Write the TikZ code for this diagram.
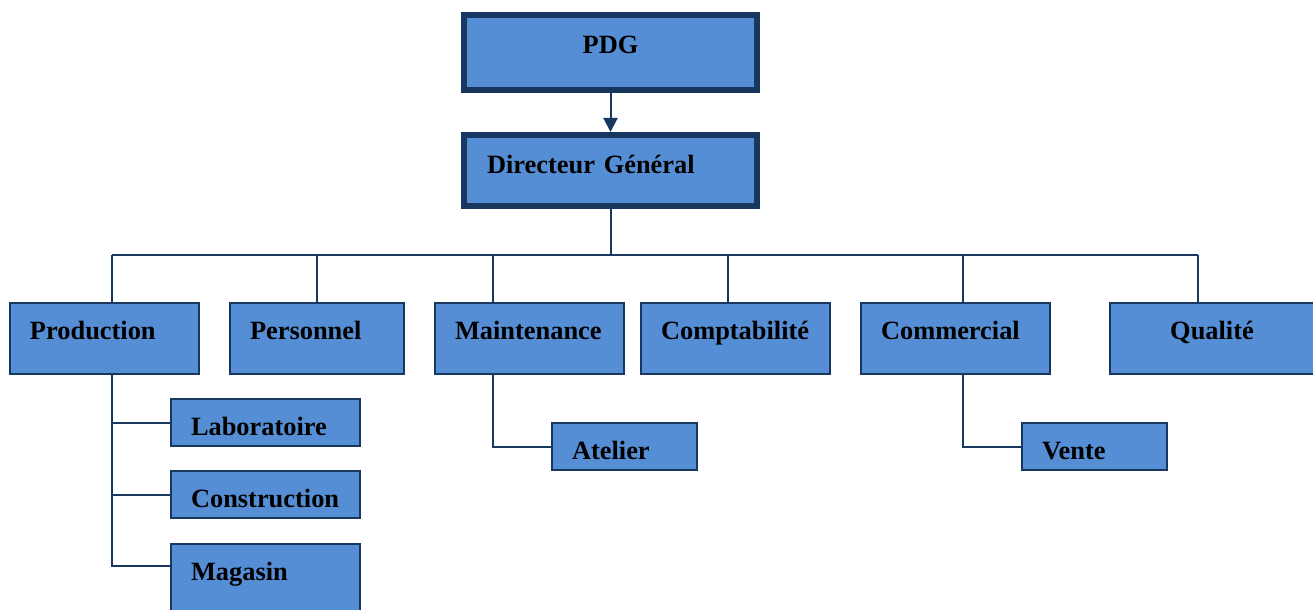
\documentclass[tikz,border=0pt]{standalone}
\usepackage{fontspec}
\setmainfont{Liberation Serif}
\definecolor{orgfill}{HTML}{558ED5}
\definecolor{orgline}{HTML}{17375E}
\usetikzlibrary{arrows.meta, positioning}

\begin{document}
\begin{tikzpicture}[
      x=0.5pt, y=-0.5pt,
      unitbox/.style={draw=orgline, fill=orgfill, line width=1pt, anchor=north west,
                    inner xsep=10pt, inner ysep=0pt, align=left, text height=18pt,
                    font=\fontsize{13.2}{15}\selectfont\bfseries},
      headbox/.style={unitbox, line width=3pt, inner xsep=11.5pt, text width=123.5pt, text height=19.5pt},
      deptbox/.style={unitbox, text width=74.5pt, text depth=17.5pt},
      subbox/.style={unitbox, text width=74.5pt, text depth=5.5pt},
      link/.style={draw=orgline, line width=1pt}
    ]
      \useasboundingbox (0,0) rectangle (1313,610);

      % direction
      \node[headbox, align=center, text depth=18pt] (pdg) at (461,12) {PDG};
      \node[headbox, text depth=16pt] (dg) at (461,132) {Directeur G\'en\'eral};

      % services
      \node[deptbox] (prod) at (9,302) {Production};
      \node[deptbox, text width=67pt] (pers) at (229,302) {Personnel};
      \node[deptbox] (maint) at (434,302) {Maintenance};
      \node[deptbox] (compt) at (640,302) {Comptabilit\'e};
      \node[deptbox] (comm) at (860,302) {Commercial};
      \node[deptbox, text width=82pt, align=center] (qual) at (1109,302) {Qualit\'e};

      % sous-services
      \node[subbox] (labo) at (170,398) {Laboratoire};
      \node[subbox] (constr) at (170,470) {Construction};
      \node[subbox, text depth=17.5pt] (mag) at (170,543) {Magasin};
      \node[subbox, text width=52.5pt] (atel) at (551,422) {Atelier};
      \node[subbox, text width=52.5pt] (vente) at (1021,422) {Vente};

      % bus
      \coordinate (bus) at (610,255);
      \coordinate (bprod) at (112,255);
      \coordinate (bpers) at (317,255);
      \coordinate (bmaint) at (493,255);
      \coordinate (bcompt) at (728,255);
      \coordinate (bcomm) at (963,255);
      \coordinate (bqual) at (1198,255);
      \coordinate (jmag) at (112,566);

      \draw[link, -{Triangle[width=7pt, length=7pt]}] (pdg) -- (dg);
      \draw[link] (dg.south) -- (dg.south |- bus);
      \draw[link] (bprod) -- (bqual);
      \draw[link] (bprod) -- (bprod |- prod.north);
      \draw[link] (bpers) -- (bpers |- pers.north);
      \draw[link] (bmaint) -- (bmaint |- maint.north);
      \draw[link] (bcompt) -- (bcompt |- compt.north);
      \draw[link] (bcomm) -- (bcomm |- comm.north);
      \draw[link] (bqual) -- (bqual |- qual.north);

      \draw[link] (bprod |- prod.south) -- (jmag) -- (jmag -| mag.west);
      \draw[link] (bprod |- labo.west) -- (labo.west);
      \draw[link] (bprod |- constr.west) -- (constr.west);
      \draw[link] (bmaint |- maint.south) |- (atel.west);
      \draw[link] (bcomm |- comm.south) |- (vente.west);
    \end{tikzpicture}
\end{document}
